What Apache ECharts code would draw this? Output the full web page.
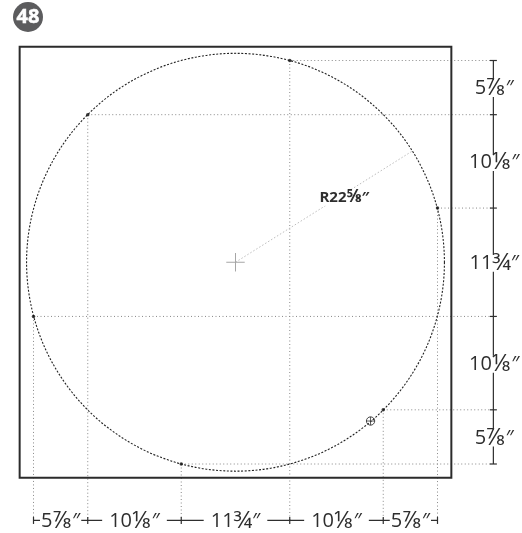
<!DOCTYPE html>
<html>
<head>
<meta charset="utf-8">
<style>
  html, body { margin: 0; padding: 0; background: #fff; }
  #main { width: 522px; height: 533px; }
</style>
<script src="https://cdn.jsdelivr.net/npm/echarts@6/dist/echarts.min.js"></script>
</head>
<body>
<div id="main"></div>
<script>
// everything is in inches, origin at the lower left hole station
const stations = [0, 5.875, 16, 27.75, 37.875, 43.75]
const spanLabels = ['5⅞″', '10⅛″', '11¾″', '10⅛″', '5⅞″']
const holes = [[0, 16], [5.875, 37.875], [16, 0], [27.75, 43.75], [37.875, 5.875], [43.75, 27.75]]
const center = [21.875, 21.875]
const radius = 22.625
const radiusAngle = 32.2
const radiusLabel = 'R22⅝″'
const datum = [36.5, 4.66]
const frame = [-1.5, -1.5, 45.25, 45.25]
const rightDimX = 49.8
const bottomDimY = -6.12
const badgeText = '48'

const font = '"Open Sans", "Noto Sans", sans-serif'
const inkColor = '#2e2e2e'

let myChart = echarts.init(document.getElementById('main'))

// dotted extension lines, hole to dimension line
let extLines = []
holes.forEach(h => {
  extLines.push([h[0], h[1], h[0], bottomDimY])
  extLines.push([h[0], h[1], rightDimX - 0.3, h[1]])
})

// dimension lines and their ticks
let dimLines = [
  [rightDimX, stations[0], rightDimX, stations[5]],
  [stations[0], bottomDimY, stations[5], bottomDimY]
]
stations.forEach(s => {
  dimLines.push([rightDimX - 0.38, s, rightDimX + 0.38, s])
  dimLines.push([s, bottomDimY - 0.38, s, bottomDimY + 0.38])
})

let spanText = []
spanLabels.forEach((t, i) => {
  let mid = (stations[i] + stations[i + 1]) / 2
  spanText.push({ value: [rightDimX + 0.1, mid], label: t, pad: 1 })
  // the inner bottom labels leave a wider gap in the line
  spanText.push({ value: [mid, bottomDimY], label: t, pad: (i === 0 || i === 4) ? 1 : 7 })
})

let angle = radiusAngle * Math.PI / 180
let radiusEnd = [center[0] + radius * Math.cos(angle), center[1] + radius * Math.sin(angle)]

// "5⅞″" -> whole part, oversized fraction glyph, inch mark
function richLabel(t) {
  let m = t.match(/^(R?\d+)(.)(″)$/)
  return '{w|' + m[1] + '}{f|' + m[2] + '}{q|' + m[3] + '}'
}

function segmentSeries(data, color, width, dash, z) {
  return {
    type: 'custom',
    coordinateSystem: 'cartesian2d',
    silent: true,
    z: z,
    data: data,
    renderItem(params, api) {
      let a = api.coord([api.value(0), api.value(1)])
      let b = api.coord([api.value(2), api.value(3)])
      return {
        type: 'line',
        shape: { x1: a[0], y1: a[1], x2: b[0], y2: b[1] },
        style: { stroke: color, lineWidth: width, lineDash: dash }
      }
    }
  }
}

function circleSeries(data, color, width, dash, z) {
  return {
    type: 'custom',
    coordinateSystem: 'cartesian2d',
    silent: true,
    z: z,
    data: data,
    renderItem(params, api) {
      let c = api.coord([api.value(0), api.value(1)])
      let r = api.size([api.value(2), 0])[0]
      return {
        type: 'circle',
        shape: { cx: c[0], cy: c[1], r: r },
        style: { fill: 'none', stroke: color, lineWidth: width, lineDash: dash }
      }
    }
  }
}

function textSeries(data, weight, size, fracSize, z) {
  return {
    type: 'custom',
    coordinateSystem: 'cartesian2d',
    silent: true,
    z: z,
    data: data,
    renderItem(params, api) {
      let item = data[params.dataIndex]
      let c = api.coord(item.value)
      return {
        type: 'text',
        x: c[0],
        y: c[1] + 1,
        style: {
          text: richLabel(item.label),
          fill: inkColor,
          align: 'center',
          verticalAlign: 'middle',
          backgroundColor: '#fff',
          padding: [0, item.pad],
          rich: {
            w: { font: weight + ' ' + size + 'px ' + font, fill: inkColor, lineHeight: 17 },
            f: { font: weight + ' ' + fracSize + 'px ' + font, fill: inkColor, lineHeight: 17 },
            q: { font: weight + ' ' + size + 'px ' + font, fill: inkColor, lineHeight: 17 }
          }
        }
      }
    }
  }
}

let option = {
  animation: false,
  backgroundColor: '#fff',
  grid: { left: 33.5, top: 60.5, width: 404, height: 403.5 },
  xAxis: { type: 'value', min: 0, max: 43.75, show: false },
  yAxis: { type: 'value', min: 0, max: 43.75, show: false },
  graphic: [
    { type: 'circle', shape: { cx: 28, cy: 17, r: 15 }, style: { fill: '#5c5c5e' } },
    {
      type: 'text', x: 28, y: 17,
      style: {
        text: badgeText, font: 'bold 20px ' + font, fill: '#fff',
        stroke: '#fff', lineWidth: 0.5,
        align: 'center', verticalAlign: 'middle'
      }
    }
  ],
  series: [
    // outer frame
    {
      type: 'custom',
      coordinateSystem: 'cartesian2d',
      silent: true,
      z: 2,
      data: [frame],
      renderItem(params, api) {
        let a = api.coord([api.value(0), api.value(3)])
        let b = api.coord([api.value(2), api.value(1)])
        return {
          type: 'rect',
          shape: { x: a[0], y: a[1], width: b[0] - a[0], height: b[1] - a[1] },
          style: { fill: 'none', stroke: '#2b2b2b', lineWidth: 2 }
        }
      }
    },
    segmentSeries(extLines, '#888888', 1, [1, 2.5], 1),
    segmentSeries([[center[0], center[1], radiusEnd[0], radiusEnd[1]]], '#bdbdbd', 1, [1.5, 2], 1),
    // centre cross
    segmentSeries([
      [center[0] - 1, center[1], center[0] + 1, center[1]],
      [center[0], center[1] - 1, center[0], center[1] + 1]
    ], '#a6a6a6', 1, null, 2),
    circleSeries([[center[0], center[1], radius]], '#222', 1.1, [2, 1.6], 3),
    segmentSeries(dimLines, inkColor, 1.2, null, 3),
    // datum symbol
    circleSeries([[datum[0], datum[1], 0.45]], '#333', 0.9, null, 4),
    segmentSeries([
      [datum[0] - 0.45, datum[1], datum[0] + 0.45, datum[1]],
      [datum[0], datum[1] - 0.45, datum[0], datum[1] + 0.45]
    ], '#333', 0.8, null, 4),
    {
      type: 'scatter',
      silent: true,
      z: 5,
      symbol: 'circle',
      symbolSize: 3.5,
      itemStyle: { color: '#111' },
      data: holes
    },
    textSeries(spanText, 'normal', 20, 24, 6),
    textSeries([{ value: [center[0] + 11.8, center[1] + 7.15], label: radiusLabel, pad: 1 }], 'bold', 15, 17, 6)
  ]
}

myChart.setOption(option)
</script>
</body>
</html>
